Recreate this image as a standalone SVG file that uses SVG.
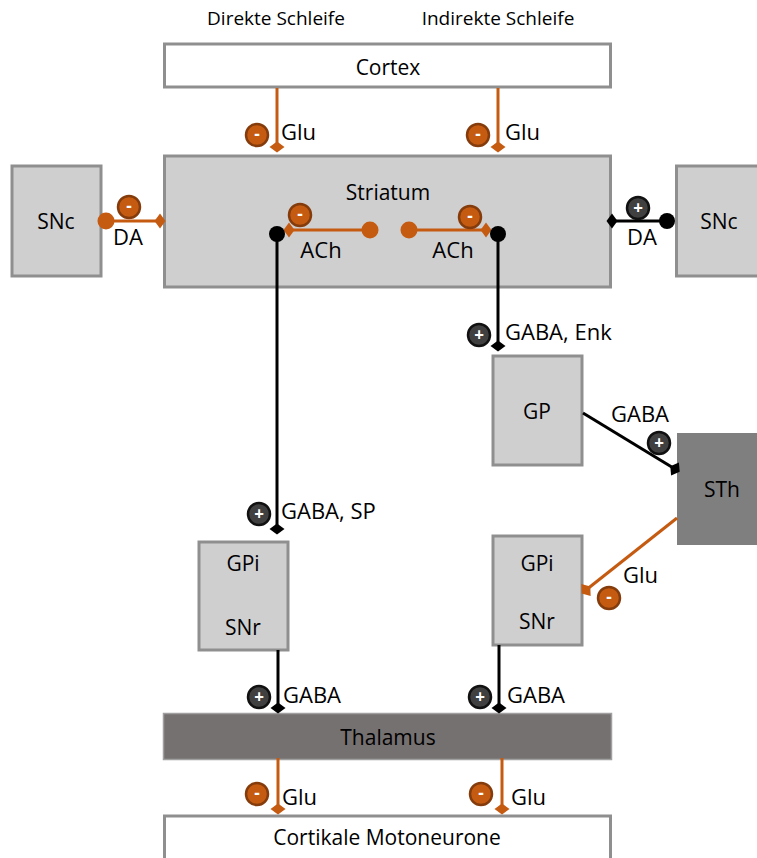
<svg xmlns="http://www.w3.org/2000/svg" width="757" height="858" viewBox="0 0 757 858">
<style>
text{font-family:"Open Sans","Noto Sans","Liberation Sans",sans-serif;fill:#000}
.lbl{font-size:22px}
.node{font-size:21px;text-anchor:middle}
.hdr{font-size:19px;text-anchor:middle}
.mid{text-anchor:middle}
.box{fill:#d0cfd0;stroke:#8f8f8f;stroke-width:3}
.wbox{fill:#fff;stroke:#8f8f8f;stroke-width:3}
.or{stroke:#c55a11;stroke-width:3;fill:none}
.bk{stroke:#000;stroke-width:3;fill:none}
.neg{fill:#c55a11;stroke:#843c0c;stroke-width:2.5}
.pos{fill:#404040;stroke:#111;stroke-width:2.5}
.sign{font-size:17px;font-weight:bold;fill:#fff;text-anchor:middle}
</style>
<defs>
<marker id="dia-o" viewBox="-9 -9 18 18" refX="0" refY="0" markerWidth="18" markerHeight="18" markerUnits="userSpaceOnUse" orient="auto"><path d="M-5.5,0 L0,-7.5 L5.5,0 L0,7.5 Z" fill="#c55a11"/></marker>
<marker id="dia-b" viewBox="-9 -9 18 18" refX="0" refY="0" markerWidth="18" markerHeight="18" markerUnits="userSpaceOnUse" orient="auto"><path d="M-5.5,0 L0,-7.5 L5.5,0 L0,7.5 Z" fill="#000"/></marker>
<marker id="dot-o" viewBox="-10 -10 20 20" refX="0" refY="0" markerWidth="20" markerHeight="20" markerUnits="userSpaceOnUse" orient="auto"><circle r="8.5" fill="#c55a11"/></marker>
<marker id="dot-b" viewBox="-10 -10 20 20" refX="0" refY="0" markerWidth="20" markerHeight="20" markerUnits="userSpaceOnUse" orient="auto"><circle r="8" fill="#000"/></marker>
</defs>

<text class="hdr" x="276" y="25">Direkte Schleife</text>
<text class="hdr" x="498" y="25">Indirekte Schleife</text>

<g id="cortex"><rect class="wbox" x="164.5" y="44" width="446" height="43"/><text class="node" x="388" y="75">Cortex</text></g>
<g id="striatum"><rect class="box" x="164.5" y="156" width="446" height="131"/><text class="node" x="388" y="200">Striatum</text></g>
<g id="snc-left"><rect class="box" x="12" y="166" width="89" height="110"/><text class="node" x="56" y="229">SNc</text></g>
<g id="snc-right"><rect class="box" x="676.5" y="166" width="90" height="110"/><text class="node" x="719" y="229">SNc</text></g>
<g id="gp"><rect class="box" x="493" y="356" width="89" height="109"/><text class="node" x="537" y="419">GP</text></g>
<g id="sth"><rect x="677" y="433" width="82" height="112" fill="#7f7f7f"/><text class="node" x="722" y="497">STh</text></g>
<g id="gpi-left"><rect class="box" x="199" y="542" width="89" height="108"/><text class="node" x="243" y="571">GPi</text><text class="node" x="243" y="635">SNr</text></g>
<g id="gpi-right"><rect class="box" x="493" y="536" width="89" height="109"/><text class="node" x="537" y="571">GPi</text><text class="node" x="537" y="629">SNr</text></g>
<g id="thalamus"><rect x="163.5" y="713.5" width="448" height="46" fill="#767171" stroke="#a0a0a0" stroke-width="1.5"/><text class="node" x="388" y="745">Thalamus</text></g>
<g id="motoneurone"><rect class="wbox" x="164.5" y="816" width="446" height="50"/><text class="node" x="387" y="845">Cortikale Motoneurone</text></g>

<g id="connectors">
<line class="or" x1="277" y1="88" x2="277" y2="147" marker-end="url(#dia-o)"/>
<line class="or" x1="498" y1="88" x2="498" y2="147" marker-end="url(#dia-o)"/>
<line class="or" x1="106" y1="221" x2="160" y2="221" marker-start="url(#dot-o)" marker-end="url(#dia-o)"/>
<line class="bk" x1="667" y1="221" x2="612" y2="221" marker-start="url(#dot-b)" marker-end="url(#dia-b)"/>
<line class="or" x1="370" y1="230" x2="289" y2="230" marker-start="url(#dot-o)" marker-end="url(#dia-o)"/>
<line class="or" x1="409" y1="230" x2="486" y2="230" marker-start="url(#dot-o)" marker-end="url(#dia-o)"/>
<line class="bk" x1="277" y1="234" x2="277" y2="529" marker-start="url(#dot-b)" marker-end="url(#dia-b)"/>
<line class="bk" x1="498" y1="234" x2="498" y2="346" marker-start="url(#dot-b)" marker-end="url(#dia-b)"/>
<line class="bk" x1="583" y1="413" x2="675" y2="469" marker-end="url(#dia-b)"/>
<line class="or" x1="677" y1="518" x2="586" y2="590" marker-end="url(#dia-o)"/>
<line class="bk" x1="278" y1="650" x2="278" y2="708" marker-end="url(#dia-b)"/>
<line class="bk" x1="499" y1="645" x2="499" y2="708" marker-end="url(#dia-b)"/>
<line class="or" x1="278" y1="758" x2="278" y2="809" marker-end="url(#dia-o)"/>
<line class="or" x1="502" y1="758" x2="502" y2="809" marker-end="url(#dia-o)"/>

<g><circle class="neg" cx="257" cy="135" r="11"/><text class="sign" x="257" y="140">-</text></g>
<g><circle class="neg" cx="478" cy="135" r="11"/><text class="sign" x="478" y="140">-</text></g>
<g><circle class="neg" cx="129" cy="207" r="11"/><text class="sign" x="129" y="212">-</text></g>
<g><circle class="neg" cx="300" cy="215" r="11"/><text class="sign" x="300" y="220">-</text></g>
<g><circle class="neg" cx="470" cy="217" r="11"/><text class="sign" x="470" y="222">-</text></g>
<g><circle class="neg" cx="609" cy="598" r="11"/><text class="sign" x="609" y="603">-</text></g>
<g><circle class="neg" cx="257" cy="794" r="11"/><text class="sign" x="257" y="799">-</text></g>
<g><circle class="neg" cx="481" cy="794" r="11"/><text class="sign" x="481" y="799">-</text></g>

<g><circle class="pos" cx="638" cy="208" r="11"/><text class="sign" x="638" y="214">+</text></g>
<g><circle class="pos" cx="479" cy="335" r="11"/><text class="sign" x="479" y="341">+</text></g>
<g><circle class="pos" cx="659" cy="443" r="11"/><text class="sign" x="659" y="449">+</text></g>
<g><circle class="pos" cx="259" cy="514" r="11"/><text class="sign" x="259" y="520">+</text></g>
<g><circle class="pos" cx="259" cy="697" r="11"/><text class="sign" x="259" y="703">+</text></g>
<g><circle class="pos" cx="480" cy="697" r="11"/><text class="sign" x="480" y="703">+</text></g>

<text class="lbl" x="281" y="140">Glu</text>
<text class="lbl" x="505" y="140">Glu</text>
<text class="lbl mid" x="128" y="245">DA</text>
<text class="lbl mid" x="642" y="245">DA</text>
<text class="lbl mid" x="321" y="258">ACh</text>
<text class="lbl mid" x="453" y="258">ACh</text>
<text class="lbl" x="505" y="340">GABA, Enk</text>
<text class="lbl mid" x="640" y="422">GABA</text>
<text class="lbl" x="623" y="583">Glu</text>
<text class="lbl" x="281" y="519">GABA, SP</text>
<text class="lbl" x="283" y="703">GABA</text>
<text class="lbl" x="507" y="703">GABA</text>
<text class="lbl" x="282" y="805">Glu</text>
<text class="lbl" x="511" y="805">Glu</text>
</g>
</svg>
